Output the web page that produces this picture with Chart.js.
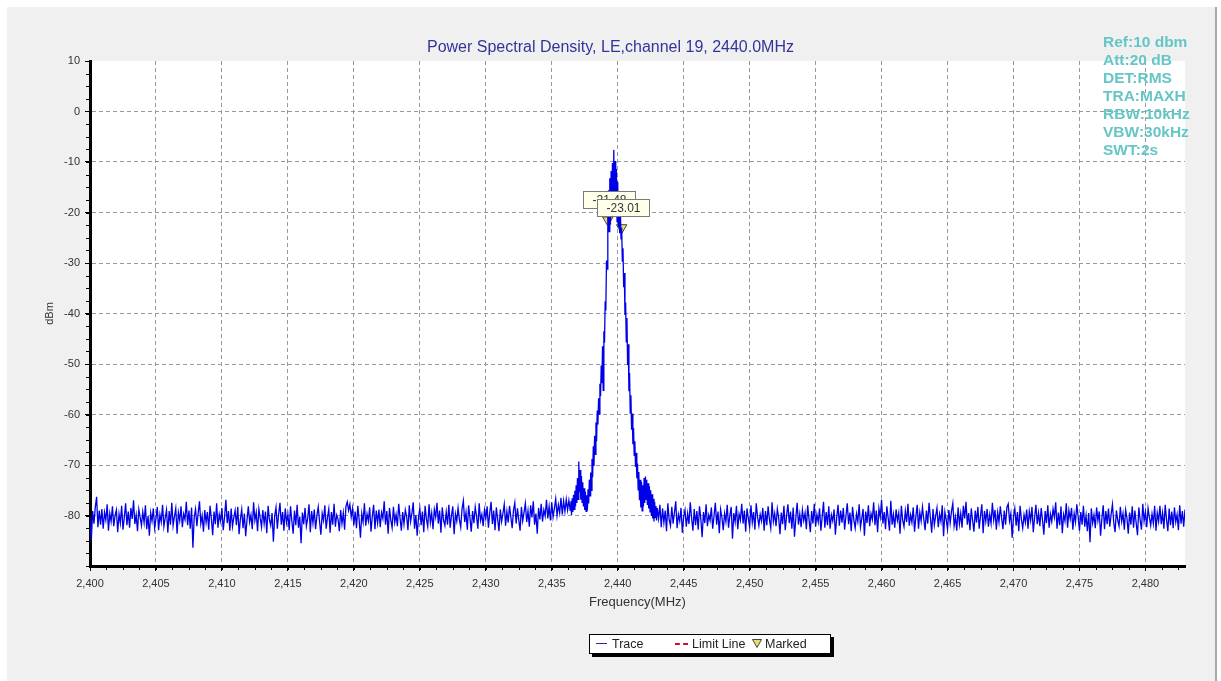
<!DOCTYPE html>
<html>
<head>
<meta charset="utf-8">
<title>Power Spectral Density</title>
<script src="https://cdn.jsdelivr.net/npm/chart.js@4/dist/chart.umd.min.js"></script>
<style>
    html, body { margin: 0; padding: 0; background: #fff; }
    #wrap { position: relative; width: 1221px; height: 681px; overflow: hidden; font-family: "Liberation Sans", Arial, sans-serif; }
    .panel { position: absolute; left: 7px; top: 7px; width: 1208px; height: 674px; background: #f0f0f0; border-right: 2px solid #a8a8a8; }
    #psd { position: absolute; left: 0; top: 0; }
    .title { position: absolute; left: 0; width: 1221px; top: 38px; line-height: 18px; text-align: center; font-size: 16px; color: #33339c; }
    .info { position: absolute; left: 1103px; top: 33px; font-size: 15.5px; font-weight: bold; line-height: 18px; color: #66c6c6; }
    .legend { position: absolute; left: 589px; top: 634px; width: 240px; height: 18px; background: #fff; border: 1px solid #000; box-shadow: 3px 3px 0 #000; font-size: 12.5px; color: #222; }
    .legend span { position: absolute; top: 1px; line-height: 16px; }
    .legend i { position: absolute; display: block; }
</style>
</head>
<body>
<div id="wrap">
    <div class="panel"></div>
    <canvas id="psd" width="1221" height="681"></canvas>
    <div class="title" id="chart-title"></div>
    <div class="info" id="settings"></div>
    <div class="legend">
        <i style="left:6px;top:8px;width:11px;height:0;border-top:1px solid #2b2b8c;"></i>
        <span style="left:22px;">Trace</span>
        <i style="left:85px;top:8px;width:13px;height:0;border-top:2px dashed #d01020;"></i>
        <span style="left:102px;">Limit Line</span>
        <svg style="position:absolute;left:162px;top:4px;" width="10" height="9"><polygon points="0.5,0.5 9.5,0.5 5,8.5" fill="#e8dc6a" stroke="#444" stroke-width="1"/></svg>
        <span style="left:175px;">Marked</span>
    </div>
</div>

<script>
/**
 * PSD plot - LE channel 19
 * Spectrum trace (max hold) with two markers
 */

const chartTitle = 'Power Spectral Density, LE,channel 19, 2440.0MHz';
const settingsLines = ['Ref:10 dbm', 'Att:20 dB', 'DET:RMS', 'TRA:MAXH', 'RBW:10kHz', 'VBW:30kHz', 'SWT:2s'];

// axis ticks
const freqTicks = [2400, 2405, 2410, 2415, 2420, 2425, 2430, 2435, 2440, 2445, 2450, 2455, 2460, 2465, 2470, 2475, 2480];
const levelTicks = [-80, -70, -60, -50, -40, -30, -20, -10, 0, 10];
const freqMin = 2400, freqMax = 2483;
const levelMin = -90, levelMax = 10;

// noise floor below the signal: bins 2400.0 .. 2436.3 MHz, 0.1 MHz apart (one row = 1 MHz)
const lowBandStart = 2400.0;
const lowBandStep = 0.1;
const lowBandLevels = [
    -80.2, -84.9, -79.1, -81.6, -78.4, -76.3, -82.3, -79.0, -81.8, -78.7,
    -82.6, -79.4, -80.9, -77.8, -83.0, -79.6, -81.2, -78.2, -82.1, -80.0,
    -78.9, -83.3, -79.7, -81.5, -78.1, -82.8, -80.4, -77.6, -81.9, -79.2,
    -82.4, -78.5, -80.7, -77.0, -81.7, -79.9, -83.1, -78.8, -80.3, -82.0,
    -79.3, -81.4, -78.0, -82.7, -80.1, -84.0, -79.5, -81.1, -78.6, -82.5,
    -80.6, -78.3, -82.9, -79.8, -81.3, -77.9, -82.2, -80.5, -78.9, -83.4,
    -79.1, -81.8, -77.5, -82.0, -80.2, -78.6, -83.6, -79.4, -81.0, -78.2,
    -82.3, -79.7, -80.8, -77.3, -81.9, -79.0, -82.6, -78.4, -86.4, -80.3,
    -78.7, -82.1, -79.5, -77.2, -81.6, -80.0, -83.2, -78.9, -81.4, -79.3,
    -82.8, -78.1, -80.6, -83.9, -79.2, -81.7, -77.6, -82.4, -79.8, -81.1,
    -78.5, -82.9, -80.3, -76.9, -81.5, -79.1, -83.0, -78.6, -82.2, -80.4,
    -79.0, -81.9, -78.3, -83.7, -80.7, -78.8, -82.5, -79.6, -84.1, -80.9,
    -78.2, -81.3, -79.9, -82.7, -77.4, -81.0, -79.4, -83.1, -78.7, -80.5,
    -82.3, -78.9, -81.6, -79.2, -83.5, -78.1, -80.8, -82.0, -79.5, -85.2,
    -80.1, -78.4, -82.6, -79.7, -77.5, -81.8, -79.3, -83.0, -78.6, -81.4,
    -79.8, -82.9, -78.2, -81.1, -83.6, -79.0, -81.9, -77.9, -82.4, -80.2,
    -85.5, -79.4, -81.7, -78.5, -82.1, -80.6, -77.8, -83.3, -79.1, -81.5,
    -78.8, -82.7, -80.0, -78.3, -81.2, -83.8, -79.6, -81.0, -78.0, -82.6,
    -80.4, -78.7, -83.4, -79.3, -81.8, -77.7, -82.2, -79.9, -80.7, -83.1,
    -78.9, -81.6, -79.5, -82.8, -78.2, -77.3, -79.0, -77.8, -80.3, -78.6,
    -81.9, -79.2, -82.5, -78.1, -80.8, -84.4, -79.6, -81.3, -77.6, -82.0,
    -79.7, -81.1, -78.4, -83.2, -80.1, -77.9, -82.7, -79.0, -81.5, -78.8,
    -82.3, -79.4, -80.6, -77.2, -81.8, -79.1, -83.6, -78.5, -80.9, -82.4,
    -78.3, -81.4, -79.8, -82.1, -77.7, -80.5, -83.0, -79.3, -81.7, -78.9,
    -80.2, -82.9, -78.0, -81.2, -79.6, -77.4, -82.6, -79.9, -84.0, -80.4,
    -78.6, -81.9, -79.2, -83.3, -78.1, -80.7, -82.2, -77.8, -81.4, -79.5,
    -82.7, -78.8, -80.3, -77.5, -81.6, -79.0, -83.4, -78.4, -80.9, -82.0,
    -79.3, -81.8, -77.9, -82.4, -80.0, -78.2, -83.7, -79.7, -81.1, -78.5,
    -80.8, -82.3, -78.7, -77.1, -81.3, -79.4, -82.8, -78.0, -80.5, -83.2,
    -79.1, -81.5, -78.3, -80.2, -82.6, -77.6, -81.0, -79.8, -82.1, -78.9,
    -80.6, -78.2, -82.4, -79.5, -77.3, -81.7, -79.0, -82.9, -78.4, -80.7,
    -83.1, -78.8, -81.2, -79.6, -77.8, -82.0, -79.2, -81.4, -78.1, -80.3,
    -82.5, -79.0, -77.5, -81.6, -78.6, -80.9, -83.0, -78.3, -81.1, -79.4,
    -77.6, -81.3, -79.1, -82.2, -78.0, -80.4, -77.2, -81.8, -79.6, -83.6,
    -78.5, -80.8, -77.7, -81.2, -78.9, -80.1, -76.9, -80.6, -78.2, -81.0,
    -77.4, -80.3, -78.6, -76.7, -80.0, -77.9, -79.5, -76.5, -79.8, -77.1,
    -79.2, -76.8, -78.9, -77.0
];

// the signal itself: 2436.40 .. 2443.00 MHz, 0.05 MHz apart
const peakStart = 2436.4;
const peakStep = 0.05;
const peakLevels = [
    -79.0, -77.2, -79.9, -76.6, -79.3, -75.9, -78.8, -75.1, -78.2, -74.0,
    -77.5, -72.6, -76.8, -69.3, -75.4, -71.0, -76.9, -72.2, -77.4, -73.4,
    -78.2, -74.6, -78.9, -75.3, -79.2, -76.0, -79.0, -74.8, -77.6, -72.9,
    -76.1, -71.5, -75.0, -68.8, -72.4, -66.3, -70.2, -64.2, -67.9, -61.6,
    -65.3, -59.2, -62.0, -56.8, -59.9, -53.9, -56.4, -50.3, -53.8, -46.5,
    -55.2, -43.5, -45.8, -37.6, -39.4, -29.5, -31.2, -21.5, -15.6, -23.8,
    -13.2, -22.4, -11.8, -20.9, -10.2, -19.6, -7.6, -18.1, -9.8, -20.7,
    -11.4, -21.8, -13.9, -22.9, -16.7, -24.1, -19.3, -25.2, -23.0, -29.6,
    -27.1, -34.8, -32.0, -40.3, -37.8, -45.6, -40.9, -50.2, -46.1, -55.4,
    -51.8, -59.7, -56.2, -63.0, -59.8, -65.9, -62.7, -68.1, -65.3, -70.4,
    -67.6, -72.6, -69.7, -74.9, -71.4, -77.0, -72.9, -78.4, -73.3, -79.1,
    -74.0, -78.2, -72.6, -77.5, -72.3, -76.8, -72.9, -77.9, -73.6, -78.6,
    -74.2, -79.3, -75.0, -80.1, -75.8, -80.6, -76.7, -81.2, -77.3, -80.4,
    -78.1, -81.0, -78.5
];

// noise floor above the signal: 2443.1 .. 2483.0 MHz, 0.1 MHz apart
const highBandStart = 2443.1;
const highBandStep = 0.1;
const highBandLevels = [
    -80.6, -77.9, -82.3, -78.6, -81.4, -79.0, -83.1, -77.6, -80.8, -82.0,
    -78.3, -81.6, -79.4, -77.2, -82.5, -79.8, -81.1, -78.5, -83.4, -80.2,
    -78.9, -82.2, -79.6, -81.7, -77.4, -80.5, -83.0, -78.7, -81.9, -79.1,
    -82.8, -78.2, -80.7, -84.3, -79.3, -81.5, -77.8, -82.1, -79.9, -81.0,
    -78.4, -82.6, -80.1, -77.5, -81.8, -79.2, -83.5, -78.8, -80.4, -82.9,
    -79.6, -81.2, -77.9, -82.4, -80.0, -78.3, -84.6, -79.5, -81.3, -78.1,
    -82.7, -79.7, -80.9, -77.7, -81.6, -79.0, -83.2, -78.6, -80.6, -82.3,
    -78.0, -81.4, -79.3, -82.8, -77.6, -80.3, -82.0, -79.8, -81.1, -78.5,
    -83.0, -79.1, -81.9, -78.2, -80.8, -82.5, -77.4, -81.2, -79.6, -82.1,
    -78.7, -80.4, -83.7, -79.4, -81.7, -78.1, -82.9, -80.0, -77.8, -81.5,
    -79.2, -82.6, -78.4, -84.2, -80.5, -77.5, -81.8, -79.7, -82.3, -78.9,
    -81.0, -79.5, -82.7, -78.0, -80.7, -83.3, -79.1, -81.6, -77.7, -82.2,
    -79.8, -81.3, -78.6, -83.0, -80.2, -77.3, -82.4, -79.3, -81.9, -78.2,
    -82.6, -79.9, -81.1, -78.8, -83.8, -80.4, -77.9, -82.0, -79.0, -81.4,
    -78.5, -82.8, -80.1, -77.6, -81.7, -79.4, -83.1, -78.3, -80.9, -82.5,
    -79.7, -81.2, -77.8, -82.3, -80.6, -78.7, -84.0, -79.2, -81.5, -78.0,
    -82.1, -79.6, -80.8, -77.4, -81.9, -79.0, -83.3, -78.6, -80.3, -76.9,
    -81.6, -79.3, -82.7, -78.2, -80.5, -83.0, -77.1, -81.8, -79.8, -82.4,
    -78.8, -81.0, -79.5, -83.6, -78.1, -80.9, -82.2, -79.1, -81.3, -77.7,
    -82.0, -79.9, -81.4, -78.4, -83.2, -80.2, -77.9, -82.6, -79.4, -81.1,
    -78.3, -80.7, -82.9, -79.0, -81.6, -77.5, -80.4, -83.4, -78.7, -81.9,
    -80.1, -78.5, -82.3, -79.7, -81.2, -78.0, -84.1, -79.3, -80.8, -82.7,
    -78.9, -81.5, -79.2, -77.6, -82.1, -80.3, -83.0, -78.4, -81.7, -79.6,
    -82.4, -78.1, -80.6, -77.3, -81.8, -79.5, -82.9, -78.6, -81.0, -83.2,
    -79.0, -81.4, -78.3, -82.6, -80.0, -77.8, -83.5, -79.1, -81.2, -78.7,
    -82.2, -79.8, -81.6, -77.5, -80.9, -78.9, -82.8, -79.4, -81.3, -78.2,
    -80.5, -82.7, -79.0, -81.8, -78.4, -77.7, -81.1, -79.6, -84.4, -80.2,
    -78.6, -82.0, -79.3, -83.1, -78.1, -80.8, -82.5, -79.9, -81.4, -78.8,
    -82.6, -79.2, -81.0, -78.3, -83.3, -80.4, -77.9, -81.7, -79.5, -82.1,
    -78.5, -80.9, -83.8, -79.1, -81.5, -78.0, -82.4, -79.7, -81.2, -78.7,
    -80.3, -77.4, -82.6, -79.4, -81.9, -78.2, -83.5, -79.8, -81.1, -77.6,
    -82.4, -79.0, -80.7, -78.5, -82.8, -79.6, -81.3, -77.8, -80.2, -83.0,
    -79.3, -81.8, -78.1, -82.2, -80.0, -83.1, -79.5, -85.3, -78.6, -81.5,
    -79.9, -82.5, -78.4, -81.0, -79.2, -84.0, -80.6, -78.0, -82.7, -79.1,
    -81.7, -78.6, -82.2, -79.8, -77.8, -81.4, -83.3, -79.0, -80.9, -82.1,
    -78.3, -81.2, -79.6, -82.8, -78.9, -80.5, -83.6, -79.4, -81.8, -78.2,
    -82.4, -79.0, -81.5, -83.9, -78.4, -80.9, -82.8, -77.7, -81.1, -79.3,
    -82.3, -78.6, -80.4, -82.0, -79.7, -81.6, -78.1, -83.0, -79.5, -81.2,
    -78.1, -81.7, -79.5, -82.6, -77.9, -80.8, -83.1, -78.6, -81.9, -79.2,
    -82.5, -78.4, -81.3, -79.8, -82.9, -78.0, -81.6, -79.1, -82.2, -78.8
];

// markers
const markerFreqs = [2439.25, 2440.3];
const markerLevels = [-21.48, -23.01];

document.addEventListener('DOMContentLoaded', () => {
    document.querySelector('#chart-title').textContent = chartTitle;
    document.querySelector('#settings').innerHTML = settingsLines.join('<br>');
    initPsdChart();
});

// sweep bins -> {x, y}
function binsToPoints(start, step, levels) {
    return levels.map((lv, i) => ({ x: Math.round((start + i * step) * 100) / 100, y: lv }));
}

function buildTrace() {
    return binsToPoints(lowBandStart, lowBandStep, lowBandLevels)
        .concat(binsToPoints(peakStart, peakStep, peakLevels))
        .concat(binsToPoints(highBandStart, highBandStep, highBandLevels));
}

// white plot area on the grey panel
const plotBackground = {
    id: 'plotBackground',
    beforeDraw(chart) {
        const { ctx, chartArea: a } = chart;
        ctx.save();
        ctx.fillStyle = '#fff';
        ctx.fillRect(a.left, a.top, a.right - a.left, a.bottom - a.top);
        ctx.restore();
    }
};

// small ticks between the labelled ones
const minorTicks = {
    id: 'minorTicks',
    afterDraw(chart) {
        const { ctx, scales: { x, y } } = chart;
        ctx.save();
        ctx.strokeStyle = '#000';
        ctx.lineWidth = 1;
        ctx.beginPath();
        for (let f = freqMin; f <= freqMax; f += 1.25) {
            const px = Math.round(x.getPixelForValue(f)) + 0.5;
            ctx.moveTo(px, y.bottom);
            ctx.lineTo(px, y.bottom + 4);
        }
        for (let v = levelMin; v <= levelMax; v += 2.5) {
            const py = Math.round(y.getPixelForValue(v)) + 0.5;
            ctx.moveTo(x.left, py);
            ctx.lineTo(x.left - 4, py);
        }
        ctx.stroke();
        ctx.restore();
    }
};

// value boxes above the marker triangles
const markerTags = {
    id: 'markerTags',
    afterDatasetsDraw(chart) {
        const { ctx } = chart;
        const meta = chart.getDatasetMeta(1);
        ctx.save();
        ctx.font = '12px "Liberation Sans", Arial, sans-serif';
        ctx.textAlign = 'center';
        ctx.textBaseline = 'middle';
        meta.data.forEach((pt, i) => {
            const bx = Math.round(pt.x) - 25 + 0.5;
            const by = Math.round(pt.y) - 29 + 0.5;
            ctx.fillStyle = '#ffffea';
            ctx.fillRect(bx, by, 52, 17);
            ctx.strokeStyle = '#7a7a7a';
            ctx.lineWidth = 1;
            ctx.strokeRect(bx, by, 52, 17);
            ctx.fillStyle = '#333';
            ctx.fillText(markerLevels[i].toFixed(2), bx + 26, by + 9);
        });
        ctx.restore();
    }
};

function initPsdChart() {
    const ctx = document.getElementById('psd');
    Chart.defaults.font.family = '"Liberation Sans", Arial, sans-serif';
    Chart.defaults.color = '#333';

    new Chart(ctx, {
        type: 'line',
        data: {
            datasets: [{
                label: 'Trace',
                data: buildTrace(),
                borderColor: '#0000e8',
                borderWidth: 1.3,
                pointRadius: 0,
                tension: 0
            }, {
                label: 'Marked',
                data: markerFreqs.map((f, i) => ({ x: f, y: markerLevels[i] })),
                showLine: false,
                pointStyle: 'triangle',
                pointRotation: 180,
                pointRadius: 6,
                pointBackgroundColor: '#e8dc6a',
                pointBorderColor: '#444',
                pointBorderWidth: 1
            }]
        },
        options: {
            responsive: false,
            animation: false,
            events: [],
            layout: { padding: { left: 0, top: 61, right: 36, bottom: 65 } },
            plugins: {
                legend: { display: false },
                title: { display: false },
                tooltip: { enabled: false }
            },
            scales: {
                x: {
                    type: 'linear',
                    min: freqMin,
                    max: freqMax,
                    afterBuildTicks: s => { s.ticks = freqTicks.map(v => ({ value: v })); },
                    afterFit: s => { s.height = 50; },
                    ticks: {
                        padding: 6,
                        font: { size: 11 },
                        color: '#333',
                        maxRotation: 0,
                        callback: v => v.toLocaleString('en-US')
                    },
                    grid: {
                        color: '#9a9a9a',
                        lineWidth: 1,
                        tickLength: 5,
                        tickColor: '#000'
                    },
                    border: { color: '#000', width: 3, dash: [4, 3] },
                    title: {
                        display: true,
                        text: 'Frequency(MHz)',
                        font: { size: 13 },
                        color: '#333',
                        padding: { top: 0, bottom: 6 }
                    }
                },
                y: {
                    min: levelMin,
                    max: levelMax,
                    afterBuildTicks: s => { s.ticks = levelTicks.map(v => ({ value: v })); },
                    afterFit: s => { s.width = 90; },
                    ticks: {
                        padding: 5,
                        font: { size: 11 },
                        color: '#333'
                    },
                    grid: {
                        color: c => (c.tick && c.tick.value === levelMax) ? 'rgba(0,0,0,0)' : '#9a9a9a',
                        lineWidth: 1,
                        tickLength: 5,
                        tickColor: '#000'
                    },
                    border: { color: '#000', width: 3, dash: [4, 3] },
                    title: {
                        display: true,
                        text: 'dBm',
                        font: { size: 11 },
                        color: '#333',
                        padding: { top: 43, bottom: 0 }
                    }
                }
            }
        },
        plugins: [plotBackground, minorTicks, markerTags]
    });
}
</script>
</body>
</html>
